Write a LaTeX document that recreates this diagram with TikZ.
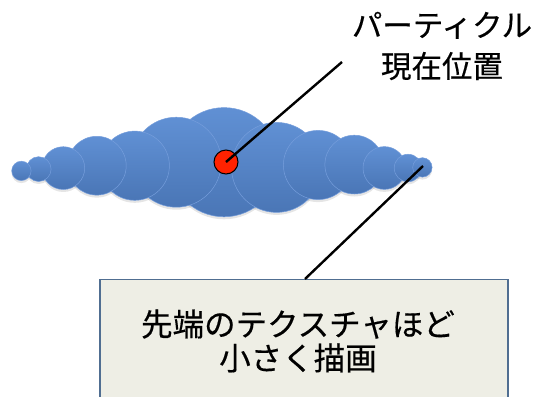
\documentclass[tikz,border=0pt]{standalone}
\usepackage{fontspec}
\newfontfamily\cjk[FakeBold=0.4]{Noto Sans CJK JP}
\definecolor{blobtop}{RGB}{96,144,212}
\definecolor{blobbot}{RGB}{74,118,182}
\definecolor{blobedge}{RGB}{118,158,220}
\definecolor{boxfill}{RGB}{238,238,229}
\definecolor{boxedge}{RGB}{80,110,145}
\definecolor{dotred}{RGB}{255,34,0}
\tikzset{
  blob/.style={circle, top color=blobtop, bottom color=blobbot, draw=blobedge, line width=0.5pt},
  blobshadow/.style={fill=black, opacity=0.10},
  leader/.style={line width=2.4pt, black},
  jptext/.style={font=\cjk\fontsize{30.5}{41}\selectfont, align=center, inner sep=0pt},
  boxtextstyle/.style={font=\cjk\fontsize{31.5}{34}\selectfont, align=center, inner sep=0pt},
}
\begin{document}
\begin{tikzpicture}[x=1pt,y=-1pt]
\useasboundingbox (0,0) rectangle (542,397);
% shadows
\foreach \x/\y/\r in {224/162.2/54.6, 176.3/162.2/45, 276.5/167.4/45, 134.8/165.7/34.6, 318/165/34.6, 96.8/165.7/29.4, 354.3/164.6/29.4, 63.3/168.1/21.4, 384.4/168/21.4, 408/168/13.8, 38.7/169.1/12.4, 21.4/170.9/9.7, 422.4/167.4/9.7}
  \fill[blobshadow] (\x,\y+2.5) circle[radius=\r];
% circles, biggest first
\foreach \x/\y/\r in {224/162.2/54.6, 176.3/162.2/45, 276.5/167.4/45, 134.8/165.7/34.6, 318/165/34.6, 96.8/165.7/29.4, 354.3/164.6/29.4, 63.3/168.1/21.4, 384.4/168/21.4, 408/168/13.8, 38.7/169.1/12.4, 21.4/170.9/9.7, 422.4/167.4/9.7}
  \path[blob] (\x,\y) circle[radius=\r];
% particle position
\node[circle, fill=dotred, draw=black, line width=1pt, minimum size=24pt, inner sep=0pt] (dot) at (226,162) {};
\coordinate (tip) at (423,166);
\coordinate (lab1end) at (342,62);
% labels
\node[jptext] (lab1) at (442,46) {パーティクル\\現在位置};
\node[draw=boxedge, fill=boxfill, line width=1.2pt, minimum width=408pt, minimum height=140pt, anchor=north, inner sep=0pt] (box) at (304,279) {};
\node[boxtextstyle] (boxtext) at (298,341) {先端のテクスチャほど\\小さく描画};
\coordinate (boxtop) at (305,279);
% leaders
\draw[leader] (dot.center) -- (lab1end);
\draw[leader] (tip) -- (boxtop);
\end{tikzpicture}
\end{document}
